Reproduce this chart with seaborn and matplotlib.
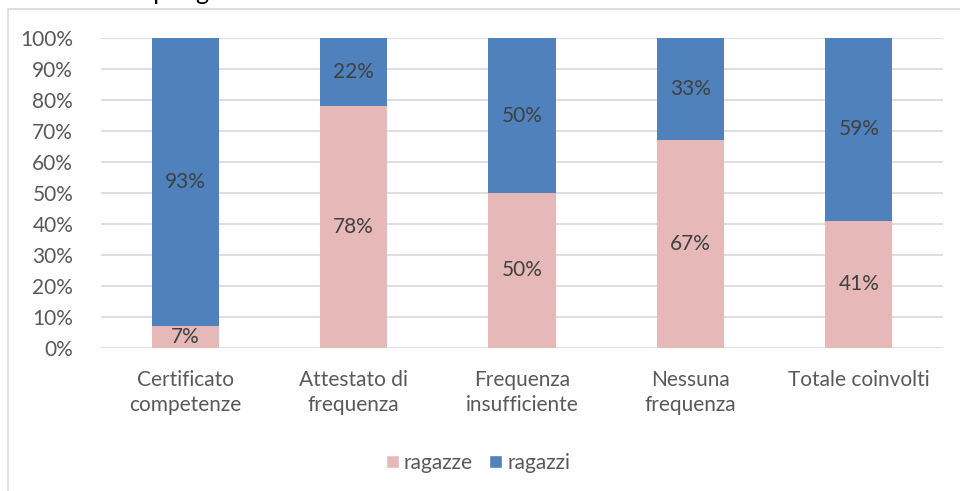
import matplotlib
matplotlib.use("Agg")
import matplotlib.pyplot as plt
import seaborn as sns
import pandas as pd
from matplotlib.patches import Rectangle, Patch

categories = ["Certificato\ncompetenze", "Attestato di\nfrequenza", "Frequenza\ninsufficiente",
              "Nessuna\nfrequenza", "Totale coinvolti"]
ragazze = [7, 78, 50, 67, 41]
ragazzi = [93, 22, 50, 33, 59]
yticks = list(range(0, 101, 10))

PINK = "#E6B9B8"
BLUE = "#4F81BD"
TXT = "#595959"
GRID = "#D9D9D9"
FS = 15

sns.set_theme(style="white")
plt.rcParams["font.family"] = ["Lato", "DejaVu Sans"]

df = pd.DataFrame({"cat": categories, "ragazze": ragazze, "ragazzi": ragazzi})
df["tot"] = df["ragazze"] + df["ragazzi"]

fig = plt.figure(figsize=(9.6, 4.91), dpi=100)
ax = fig.add_axes([101/960, 1-348/491, (943-101)/960, (348-38)/491])

sns.barplot(data=df, x="cat", y="tot", color=BLUE, saturation=1, width=0.4, ax=ax,
            zorder=3, linewidth=0)
sns.barplot(data=df, x="cat", y="ragazze", color=PINK, saturation=1, width=0.4, ax=ax,
            zorder=3, linewidth=0)

for i, (a, b) in enumerate(zip(ragazze, ragazzi)):
    ax.text(i, a/2, f"{a}%", ha="center", va="center", fontsize=FS, color="#404040", zorder=5)
    ax.text(i, a + b/2, f"{b}%", ha="center", va="center", fontsize=FS, color="#404040", zorder=5)

ax.set_ylim(0, 100)
ax.set_xlim(-0.5, len(categories) - 0.5)
ax.set_yticks(yticks)
ax.set_yticklabels([f"{t}%" for t in yticks], fontsize=FS, color=TXT)
ax.set_xticks(range(len(categories)))
ax.set_xticklabels(categories, fontsize=FS, color=TXT, linespacing=1.3)
ax.tick_params(axis="y", length=0, pad=20)
ax.tick_params(axis="x", length=0, pad=16)
ax.set_xlabel("")
ax.set_ylabel("")
for s in ax.spines.values():
    s.set_visible(False)
ax.yaxis.grid(True, color=GRID, linewidth=1.2, zorder=0)
ax.set_axisbelow(True)

handles = [Patch(facecolor=PINK, label="ragazze"), Patch(facecolor=BLUE, label="ragazzi")]
fig.legend(handles=handles, loc="center", bbox_to_anchor=(478/960, 1-463/491), ncol=2,
           frameon=False, fontsize=FS, labelcolor=TXT, handlelength=0.6, handleheight=0.6,
           handletextpad=0.25, columnspacing=0.8)

fig.patches.append(Rectangle((8/960, -0.1), 1.2, 1.1 - 9/491, transform=fig.transFigure,
                             fill=False, edgecolor=GRID, linewidth=1.2))

fig.text(-0.005, 1 + 0.5/491, "Esito dei corsi per genere", ha="left", va="baseline",
         fontsize=18, color="#000000")

fig.savefig("out.png", dpi=100)
